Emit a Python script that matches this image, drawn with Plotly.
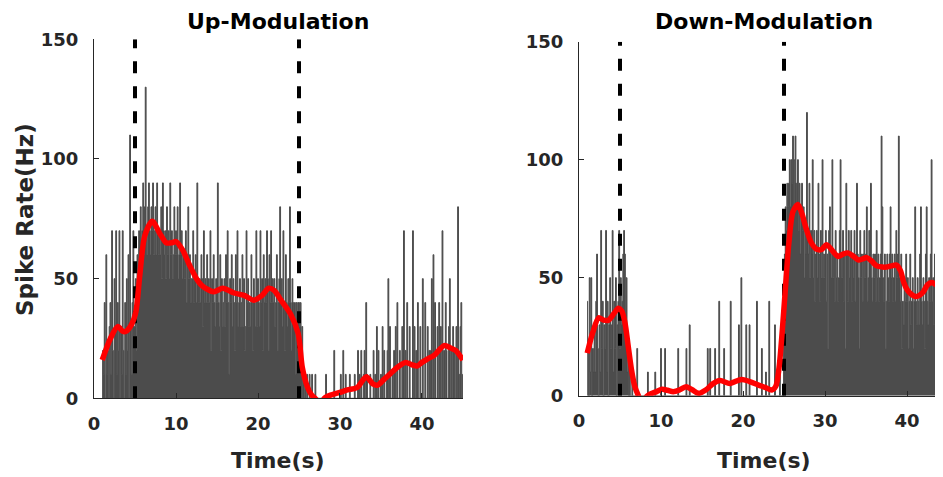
import numpy as np
import plotly.graph_objects as go

# PSTH bins: 0.1 s wide, first bin at t = 1.0 s (441 bins up to 45.0 s)
bin_start = 1.0
bin_width = 0.1
stim_on = 5
stim_off = 25
rate_max = 150

# Up-modulated unit, firing rate (Hz) per bin
up_pre = [
    0, 20, 10, 40, 0, 60, 10, 20, 0, 30,
    40, 10, 70, 20, 0, 50, 30, 70, 10, 40,
    20, 70, 0, 30, 10, 70, 20, 0, 40, 10,
    50, 20, 60, 0, 110, 30, 10, 40, 70, 30,
]
up_stim = [
    30, 50, 20, 60, 40, 70, 50, 80, 60, 70,
    90, 60, 80, 130, 70, 60, 80, 90, 70, 60,
    80, 70, 90, 60, 70, 80, 60, 90, 70, 60,
    70, 60, 80, 50, 90, 70, 60, 70, 50, 80,
    60, 70, 50, 90, 60, 70, 50, 60, 80, 60,
    70, 60, 80, 50, 60, 90, 60, 70, 50, 60,
    60, 50, 70, 40, 60, 80, 50, 60, 40, 50,
    50, 70, 40, 50, 60, 40, 90, 50, 40, 50,
    40, 60, 50, 30, 70, 40, 50, 40, 60, 40,
    50, 40, 70, 20, 50, 40, 60, 40, 30, 50,
    40, 90, 40, 30, 60, 20, 50, 30, 40, 50,
    30, 60, 40, 70, 40, 10, 50, 40, 60, 30,
    50, 40, 20, 60, 40, 70, 30, 40, 50, 30,
    40, 60, 30, 50, 20, 30, 70, 40, 50, 30,
    40, 30, 60, 40, 20, 50, 40, 30, 70, 30,
    50, 40, 30, 70, 40, 50, 20, 60, 40, 50,
    40, 70, 50, 20, 60, 40, 70, 40, 50, 40,
    50, 30, 40, 60, 20, 40, 50, 80, 40, 50,
    30, 70, 40, 20, 60, 40, 30, 50, 40, 80,
    40, 20, 50, 40, 30, 40, 10, 40, 30, 40,
]
up_post = [
    40, 30, 40, 20, 30, 0, 10, 0, 10, 0,
    10, 0, 0, 10, 0, 0, 10, 0, 0, 0,
    10, 0, 0, 0, 0, 0, 0, 0, 0, 0,
    0, 0, 0, 10, 0, 0, 0, 0, 0, 0,
    0, 0, 0, 20, 0, 0, 0, 0, 0, 0,
    0, 10, 0, 0, 20, 0, 0, 10, 0, 0,
    0, 0, 10, 0, 0, 0, 0, 0, 10, 0,
    0, 0, 20, 0, 10, 0, 20, 0, 0, 10,
    20, 0, 40, 10, 0, 0, 0, 10, 0, 0,
    0, 20, 0, 10, 0, 30, 0, 20, 0, 0,
    10, 0, 30, 0, 20, 0, 0, 10, 20, 50,
    0, 30, 0, 0, 10, 0, 20, 0, 30, 0,
    40, 0, 0, 20, 0, 0, 30, 0, 70, 0,
    20, 0, 40, 0, 0, 30, 0, 0, 0, 70,
    0, 30, 0, 20, 0, 40, 0, 0, 30, 0,
    0, 50, 0, 0, 40, 0, 0, 30, 0, 20,
    0, 20, 50, 0, 60, 0, 40, 0, 0, 30,
    0, 40, 0, 30, 0, 70, 0, 20, 0, 40,
    20, 0, 0, 30, 50, 0, 20, 0, 30, 0,
    20, 0, 30, 0, 80, 0, 10, 30, 40, 0,
    10,
]

# Down-modulated unit, firing rate (Hz) per bin
down_pre = [
    40, 20, 0, 50, 10, 50, 0, 20, 10, 30,
    10, 40, 60, 20, 0, 30, 10, 70, 20, 40,
    0, 30, 20, 70, 10, 40, 0, 30, 50, 20,
    30, 70, 10, 40, 20, 50, 0, 30, 40, 70,
]
down_stim = [
    20, 50, 30, 40, 60, 70, 60, 30, 50, 10,
    20, 0, 10, 0, 0, 10, 0, 0, 0, 0,
    0, 20, 0, 0, 0, 0, 0, 0, 0, 0,
    0, 0, 0, 0, 10, 0, 0, 0, 0, 0,
    0, 0, 0, 10, 0, 0, 0, 0, 0, 0,
    20, 0, 0, 0, 0, 20, 0, 0, 0, 0,
    0, 0, 0, 0, 0, 0, 0, 0, 0, 0,
    0, 20, 0, 0, 0, 0, 0, 0, 0, 0,
    0, 20, 0, 0, 0, 30, 0, 0, 0, 0,
    0, 0, 0, 0, 0, 0, 0, 0, 0, 0,
    0, 0, 0, 0, 0, 0, 0, 20, 0, 0,
    20, 0, 0, 0, 0, 0, 20, 0, 0, 0,
    0, 40, 0, 0, 0, 0, 0, 20, 0, 0,
    0, 0, 0, 0, 0, 40, 0, 0, 0, 0,
    0, 0, 0, 0, 0, 30, 0, 0, 50, 0,
    0, 0, 0, 0, 30, 0, 0, 0, 30, 0,
    0, 0, 0, 0, 0, 0, 0, 40, 0, 0,
    0, 0, 0, 20, 0, 0, 0, 0, 10, 0,
    0, 0, 40, 0, 0, 0, 0, 0, 0, 30,
    0, 0, 0, 0, 0, 20, 0, 0, 0, 0,
]
down_post = [
    40, 60, 80, 70, 90, 80, 90, 100, 80, 100,
    90, 110, 80, 100, 110, 90, 80, 100, 70, 90,
    60, 80, 90, 70, 80, 50, 70, 60, 120, 70,
    60, 90, 50, 70, 60, 100, 50, 70, 40, 60,
    70, 50, 90, 60, 40, 70, 50, 100, 60, 50,
    60, 70, 40, 60, 20, 70, 80, 60, 50, 100,
    50, 60, 40, 70, 50, 60, 40, 50, 70, 100,
    60, 50, 70, 40, 60, 20, 90, 60, 40, 70,
    50, 60, 70, 40, 60, 50, 70, 40, 60, 90,
    60, 50, 20, 70, 50, 60, 40, 60, 70, 50,
    60, 80, 40, 50, 70, 60, 90, 50, 40, 60,
    50, 60, 40, 70, 50, 60, 40, 50, 60, 110,
    80, 50, 40, 60, 20, 40, 60, 50, 40, 60,
    80, 50, 60, 40, 50, 60, 40, 70, 50, 60,
    110, 50, 40, 60, 20, 40, 30, 50, 40, 60,
    40, 50, 20, 40, 60, 30, 40, 50, 20, 40,
    80, 40, 30, 50, 40, 30, 60, 80, 40, 30,
    50, 40, 20, 60, 80, 40, 30, 50, 40, 60,
    100, 40, 50, 30, 60, 40, 50, 60, 40, 50,
    40, 50, 60, 20, 50, 40, 60, 20, 50, 40,
    50,
]

# smoothed rate (red curve)
up_fit_t = [1.0, 2.0, 2.9, 3.5, 3.9, 4.6, 5.1, 5.6, 6.2, 7.1, 8.0, 8.8, 9.5,
            10.0, 10.8, 11.6, 12.5, 13.2, 14.6, 15.7, 17.1, 18.3, 19.5, 20.5,
            21.3, 22.0, 22.8, 24.0, 24.9, 25.4, 26.0, 26.5, 27.1, 27.6, 28.1,
            29.0, 30.0, 30.9, 32.1, 33.2, 34.0, 34.6, 35.4, 36.2, 37.0, 38.0,
            38.8, 39.4, 40.0, 40.7, 41.5, 42.7, 43.5, 44.1, 45.0]
up_fit_hz = [16, 25, 30, 28, 28, 31, 36, 52, 68, 74, 69, 65, 65,
             65.5, 62, 56, 50, 47, 44.5, 46, 44, 43, 41, 43,
             46, 45, 41, 35, 27, 13, 5, 1.5, -0.5, -3, 0,
             1.5, 2.5, 3.5, 4.5, 9, 6, 5.5, 8, 10.5, 13, 15,
             14, 13.5, 15, 16.5, 18, 22, 21, 20, 16]

down_fit_t = [1.0, 1.7, 2.4, 3.0, 3.6, 4.3, 4.8, 5.2, 5.6, 6.0, 6.4, 6.8, 7.2,
              7.7, 8.2, 8.6, 9.3, 10.1, 10.8, 11.5, 12.3, 13.1, 13.8, 14.6,
              15.5, 16.3, 17.2, 18.4, 19.8, 20.8, 21.9, 22.7, 23.5, 24.0, 24.4,
              24.8, 25.1, 25.6, 26.1, 26.7, 27.2, 27.6, 28.3, 29.0, 29.6, 30.2,
              31.0, 31.6, 32.2, 32.8, 33.5, 34.1, 34.6, 35.1, 35.7, 36.3, 37.0,
              37.5, 38.1, 38.7, 39.2, 39.6, 40.0, 40.5, 41.0, 41.5, 42.0, 42.5,
              43.0, 43.6, 44.2, 45.0]
down_fit_hz = [18, 27, 33, 32, 32, 35, 37, 36, 31, 21, 11, 4, 0.3,
               -3, -0.5, 0.5, 1.5, 2.7, 2.3, 1.7, 2.5, 3.8, 2.5, 1,
               2.5, 5, 6.4, 5.2, 6.9, 6, 4.5, 3.5, 2.4, 4, 12,
               28, 42, 65, 78, 81, 77, 72, 65, 62, 62, 64,
               61, 59, 60, 60.5, 59, 57.5, 58, 58.5, 57, 55, 54.5,
               54.5, 55, 55.3, 53, 48, 45, 43, 42, 42.5, 44, 47,
               48, 47, 47, 46]

BAR_COLOR = "#4c4c4c"
AXIS_COLOR = "#262626"
FONT = "DejaVu Sans"

# the page body keeps its default 8 px margin, so the figure is drawn
# 8 px smaller than the window and everything is laid out in that frame
FIG_W = 935
FIG_H = 469


def bin_times(n):
    return bin_start + bin_width * np.arange(n)


def add_panel(fig, rates, fit_t, fit_hz, xref, yref):
    # bins are < 1 px wide, so the histogram is drawn as one filled step
    # outline ("hvh" steps sit on the bin edges); a thin stroke of the same
    # grey gives each spike the ~1 px edge the original bars have
    fig.add_trace(go.Scatter(
        x=bin_times(len(rates)), y=rates, mode="lines",
        line={"width": 1.0, "shape": "hvh", "color": BAR_COLOR},
        fill="tozeroy", fillcolor=BAR_COLOR,
        xaxis=xref, yaxis=yref, hoverinfo="skip",
    ))
    for t in (stim_on, stim_off):
        fig.add_trace(go.Scatter(
            x=[t, t], y=[0, rate_max], mode="lines",
            line={"color": "black", "width": 4, "dash": "12px,13px"},
            xaxis=xref, yaxis=yref, hoverinfo="skip",
        ))
    fig.add_trace(go.Scatter(
        x=fit_t, y=fit_hz, mode="lines",
        line={"color": "#ff0000", "width": 5.5, "shape": "spline", "smoothing": 0.8},
        xaxis=xref, yaxis=yref,
    ))


fig = go.Figure()
add_panel(fig, up_pre + up_stim + up_post, up_fit_t, up_fit_hz, "x", "y")
add_panel(fig, down_pre + down_stim + down_post, down_fit_t, down_fit_hz, "x2", "y2")

tick_font = {"family": FONT, "size": 18, "color": AXIS_COLOR, "weight": "bold"}
common_x = dict(
    tickvals=[0, 10, 20, 30, 40], ticks="inside", ticklen=5, tickcolor=AXIS_COLOR,
    showline=True, linecolor=AXIS_COLOR, linewidth=1.3, showgrid=False,
    zeroline=False, tickfont=tick_font, ticklabelstandoff=9, automargin=False,
)
common_y = dict(
    range=[0, rate_max], tickvals=[0, 50, 100, 150], ticks="inside", ticklen=5,
    tickcolor=AXIS_COLOR, showline=True, linecolor=AXIS_COLOR, linewidth=1.3,
    showgrid=False, zeroline=False, tickfont=tick_font, ticklabelstandoff=11,
    automargin=False,
)

title_font = {"family": FONT, "size": 22, "color": "black", "weight": "bold"}
label_font = {"family": FONT, "size": 22, "color": AXIS_COLOR, "weight": "bold"}

fig.update_layout(
    width=FIG_W, height=FIG_H,
    margin={"l": 0, "r": 0, "t": 0, "b": 0, "autoexpand": False},
    plot_bgcolor="white", paper_bgcolor="white",
    showlegend=False,
    xaxis=dict(domain=[0.0920, 0.4866], range=[0, 45], anchor="y", **common_x),
    yaxis=dict(domain=[0.1678, 0.9333], anchor="x", **common_y),
    xaxis2=dict(domain=[0.6107, 1.0], range=[0, 44.39], anchor="y2", **common_x),
    yaxis2=dict(domain=[0.1734, 0.9282], anchor="x2", **common_y),
    annotations=[
        dict(text="Up-Modulation", x=0.2893, y=0.972, xref="paper", yref="paper",
             xanchor="center", yanchor="middle", showarrow=False, font=title_font),
        dict(text="Down-Modulation", x=0.8086, y=0.972, xref="paper", yref="paper",
             xanchor="center", yanchor="middle", showarrow=False, font=title_font),
        dict(text="Time(s)", x=0.2893, y=0.036, xref="paper", yref="paper",
             xanchor="center", yanchor="middle", showarrow=False, font=label_font),
        dict(text="Time(s)", x=0.8086, y=0.036, xref="paper", yref="paper",
             xanchor="center", yanchor="middle", showarrow=False, font=label_font),
        dict(text="Spike Rate(Hz)", x=0.0182, y=0.548, xref="paper", yref="paper",
             xanchor="center", yanchor="middle", textangle=-90, showarrow=False,
             font={**label_font, "size": 23}),
    ],
)

fig.write_html("out.html")
